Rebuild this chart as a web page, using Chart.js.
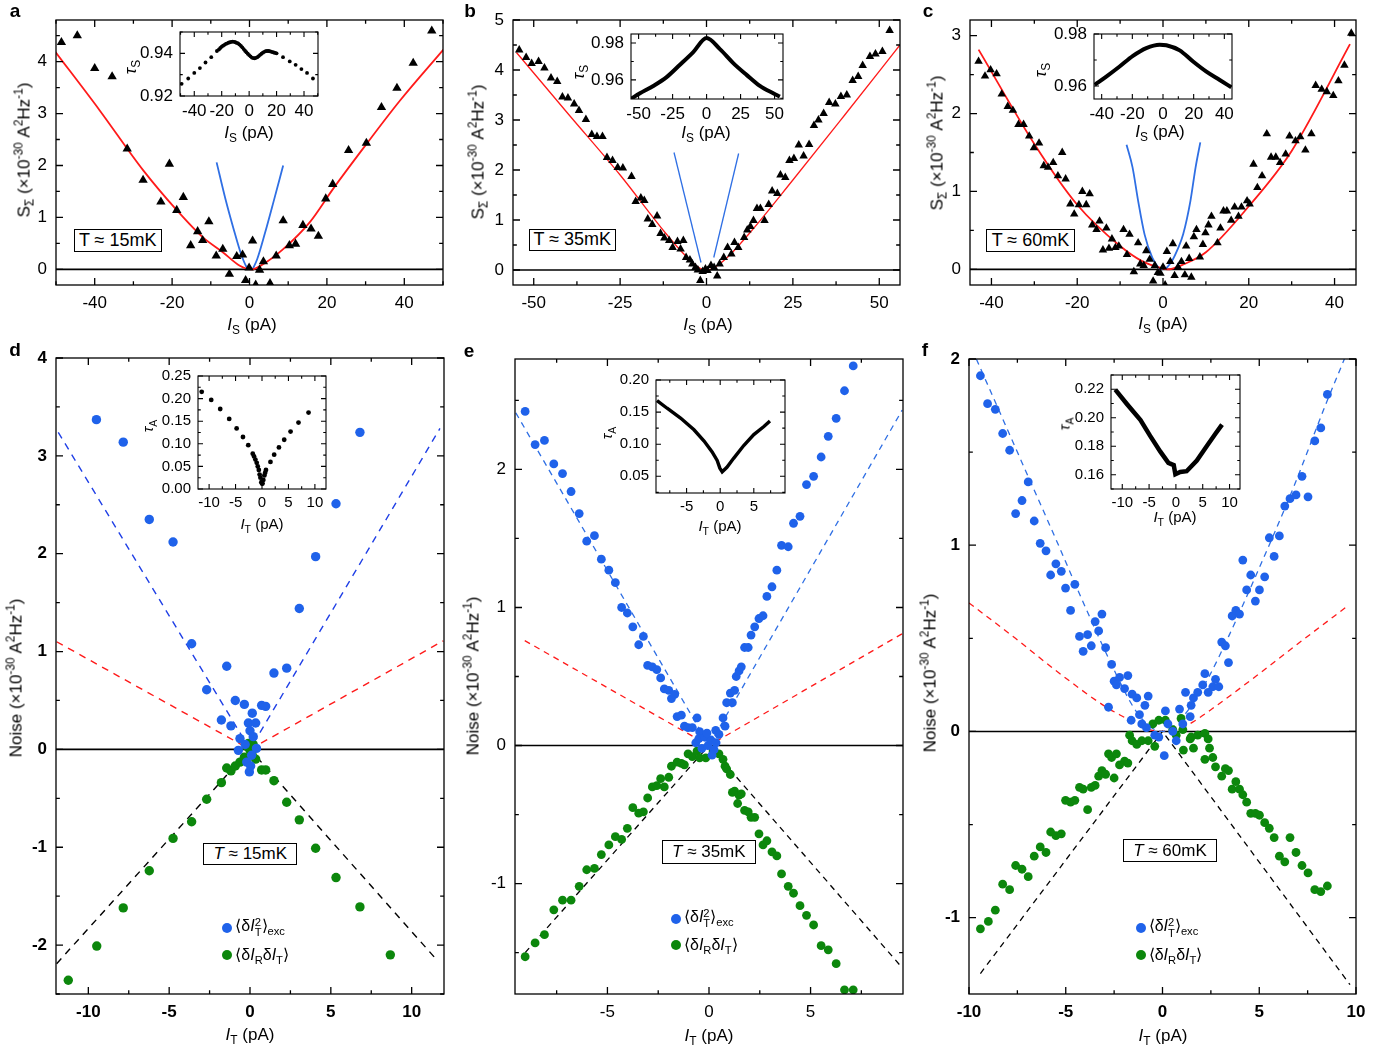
<!DOCTYPE html>
<html>
<head>
<meta charset="utf-8">
<title>Noise vs current</title>
<script src="https://cdn.jsdelivr.net/npm/chart.js@4.4.0/dist/chart.umd.min.js"></script>
<style>
  body { margin: 0; background: #fff; }
  #fig { position: relative; width: 1395px; height: 1051px; overflow: hidden;
         font-family: "Liberation Sans", Arial, sans-serif; color: #000; }
  #fig canvas { position: absolute; }
  .txt { position: absolute; white-space: nowrap; line-height: 1; }
  .txt sub, .txt sup { font-size: 70%; line-height: 0; }
  .box { position: absolute; border: 1.3px solid #000; background: #fff; box-sizing: border-box;
         display: flex; align-items: center; justify-content: center; white-space: nowrap; }
  .stk { display: inline-flex; flex-direction: column; font-size: 70%; line-height: 0.95; vertical-align: 0.4em; }
  .dot { position: absolute; border-radius: 50%; }
</style>
</head>
<body>
<div id="fig"></div>
<script>
/* ---------------- data ---------------- */
// panel a (T ~ 15 mK): S_sigma vs I_S, triangles + fits
var aTri = [[-48.6,4.37],[-44.5,4.50],[-40,3.87],[-35.5,3.71],[-31.6,2.32],[-27.5,1.72],[-22.9,1.30],[-20.7,2.03],
  [-18.8,1.14],[-17.1,1.39],[-15.2,0.46],[-13.4,0.73],[-12.1,0.56],[-10.5,0.92],[-8.6,0.26],[-6.9,0.39],[-5.2,-0.09],
  [-3.3,0.25],[-1.8,0.28],[-1.0,-0.21],[-0.1,0.03],[0.8,0.55],[1.6,-0.30],[2.6,-0.01],[3.6,0.15],[5.3,-0.27],[6.9,0.26],
  [8.7,0.94],[10.3,0.46],[11.9,0.49],[13.8,0.85],[15.9,0.78],[17.8,0.64],[19.7,1.36],[21.5,1.64],[25.6,2.29],[30.2,2.43],
  [34.1,3.12],[38.1,3.49],[42.3,3.97],[47.1,4.59]];
var aRed = [[-50.3,4.20],[-38.7,3.06],[-27.5,1.91],[-18.8,1.14],[-12.1,0.62],[-6.9,0.33],[-2.5,0.07],[0.5,0],
  [3.5,0.10],[8.7,0.39],[15.6,0.91],[21.6,1.55],[30.3,2.42],[38.9,3.25],[50.1,4.23]];
var aBlueL = [[-8.5,2.06],[-6.2,1.35],[-4,0.75],[-2.2,0.3],[-0.8,0.05],[-0.2,0]];
var aBlueR = [[0.8,0],[2,0.2],[4,0.7],[6.2,1.3],[8.7,2.0]];
var aXTicks = [-40,-20,0,20,40], aYTicks = [0,1,2,3,4];
var iaTau = [[-49.2,0.9257],[-44.4,0.9282],[-40,0.9308],[-35.9,0.9331],[-31.8,0.9357],[-27.6,0.9382],[-23.5,0.9411],
  [-22,0.9418],[-21,0.9425],[-20,0.9431],[-19,0.9436],[-18,0.9440],[-17,0.9444],[-16,0.9447],[-15,0.9450],[-14,0.9452],
  [-13,0.9454],[-12,0.9455],[-11,0.9454],[-10,0.9452],[-9,0.9449],[-8,0.9446],[-7,0.9441],[-6,0.9435],[-5,0.9428],
  [-4,0.9420],[-3,0.9412],[-2,0.9405],[-1,0.9398],[0,0.9392],[1,0.9386],[2,0.9380],[3,0.9378],[4,0.9377],[5,0.9379],
  [6,0.9382],[7,0.9387],[8,0.9393],[9,0.9398],[10,0.9403],[11,0.9407],[12,0.9410],[13,0.9411],[14,0.9411],[15,0.9410],
  [16,0.9408],[17,0.9406],[18,0.9404],[19,0.9402],[20,0.9400],[24.7,0.9382],[29.6,0.9362],[33.9,0.9346],[38.1,0.9326],
  [42.2,0.9308],[46.5,0.9282]];
var iaXTicks = [-40,-20,0,20,40], iaYTicks = [0.92,0.94];

// panel b (T ~ 35 mK)
var bTri = [[-54.2,4.40],[-52.2,4.25],[-50.6,4.13],[-48.6,4.17],[-46.9,4.04],[-45.0,3.84],[-43.2,3.77],[-41.7,3.46],
  [-40.1,3.44],[-38.3,3.32],[-36.9,3.19],[-34.9,3.01],[-33.2,2.71],[-31.7,2.67],[-30.1,2.67],[-28.8,2.25],[-27.2,2.19],
  [-25.7,2.05],[-24.2,2.04],[-21.7,1.87],[-20.5,1.37],[-19.0,1.44],[-18.0,1.39],[-17.0,1.02],[-15.7,0.91],[-14.3,1.08],
  [-13.3,0.73],[-12.2,0.64],[-10.8,0.59],[-9.8,0.45],[-8.4,0.57],[-7.5,0.42],[-6.7,0.59],[-5.9,0.25],[-4.8,0.20],
  [-4.1,0.12],[-3.2,0.05],[-2.5,0.0],[-1.8,-0.21],[-1.1,-0.03],[-0.3,0.02],[0.3,-0.01],[1.3,0.09],[2.2,0.05],[3.1,-0.12],
  [3.8,0.12],[5.0,0.25],[6.1,0.45],[7.2,0.32],[8.1,0.55],[9.2,0.45],[10.9,0.65],[11.8,0.80],[12.7,0.87],[13.6,0.99],
  [14.6,1.23],[15.6,1.23],[16.8,0.99],[18.0,1.31],[19.0,1.58],[20.5,1.53],[21.4,1.90],[22.8,1.85],[24.0,2.19],[25.3,2.23],
  [26.7,2.50],[28.1,2.28],[29.7,2.51],[31.1,2.89],[32.4,3.0],[33.9,3.13],[35.5,3.35],[37.3,3.32],[38.9,3.47],[40.6,3.50],
  [42.3,3.79],[43.9,3.87],[45.2,4.09],[47.3,4.27],[48.9,4.32],[50.9,4.37],[53.0,4.79]];
var bRed = [[-55,4.35],[-40,3.12],[-25,1.9],[-12,0.75],[-6,0.28],[-2,0.04],[0,0],[2,0.04],[6,0.25],[12,0.7],
  [25,1.8],[40,3.1],[56,4.5]];
var bBlueL = [[-9.4,2.35],[-1.6,0.15]];
var bBlueR = [[2.1,0.25],[9.3,2.33]];
var bXTicks = [-50,-25,0,25,50], bYTicks = [0,1,2,3,4,5];
var ibTau = [[-55.9,0.9496],[-49,0.9527],[-39.2,0.9567],[-29.4,0.9615],[-19.6,0.9682],[-9.8,0.9751],[0,0.9827],
  [9.8,0.9767],[19.6,0.9691],[29.4,0.9627],[39.2,0.9567],[49,0.9527],[53.9,0.9509]];
var ibXTicks = [-50,-25,0,25,50], ibYTicks = [0.96,0.98];

// panel c (T ~ 60 mK)
var cTri = [[-43.0,2.67],[-41.5,2.48],[-40.2,2.56],[-38.8,2.51],[-37.6,2.25],[-36.2,2.09],[-35.0,2.04],[-33.7,1.86],
  [-32.5,1.86],[-31.2,1.71],[-30.1,1.56],[-28.9,1.62],[-27.8,1.33],[-26.8,1.31],[-25.6,1.37],[-24.5,1.20],[-23.5,1.50],
  [-22.7,1.16],[-21.6,0.84],[-20.7,0.71],[-19.6,0.83],[-18.8,1.0],[-17.9,0.83],[-17.1,0.97],[-16.5,0.57],[-15.5,0.51],
  [-14.8,0.62],[-14.0,0.25],[-13.2,0.53],[-12.6,0.27],[-11.9,0.39],[-11.1,0.28],[-10.3,0.30],[-9.2,0.51],[-8.4,0.19],
  [-7.8,0.45],[-6.8,-0.03],[-5.8,0.34],[-5.3,0.07],[-4.5,0.05],[-3.9,0.24],[-3.1,0.13],[-2.3,-0.15],[-1.9,0.05],
  [-1.2,-0.04],[-0.6,-0.05],[0,0.03],[0.5,-0.20],[0.9,0.23],[1.7,0.10],[2.3,0.33],[2.7,-0.08],[3.5,0.03],[4.3,0.10],
  [5.1,-0.07],[5.4,0.30],[6.1,0.14],[6.6,-0.10],[7.2,0.42],[7.8,0.51],[8.6,0.16],[9.3,0.32],[9.9,0.47],[10.6,0.57],
  [11.3,0.68],[12.7,0.34],[13.4,0.53],[14.1,0.75],[14.9,0.75],[15.9,0.63],[16.7,0.80],[17.6,0.68],[18.3,0.80],[19.6,0.88],
  [20.2,0.84],[21.1,1.35],[22.0,1.05],[23.1,1.20],[24.2,1.74],[25.2,1.44],[26.3,1.44],[27.3,1.37],[28.6,1.48],[29.5,1.71],
  [30.9,1.65],[32.0,1.70],[33.2,1.53],[34.6,1.74],[35.6,2.36],[37.0,2.31],[38.2,2.28],[39.7,2.23],[40.9,2.42],[42.3,2.62],
  [43.9,3.03]];
var cRed = [[-43,2.82],[-30,1.61],[-20,0.83],[-10,0.30],[-5,0.11],[0,0.01],[1,0],[5,0.07],[10,0.22],[20,0.81],
  [30,1.52],[43.6,2.89]];
var cBlueL = [[-8.5,1.6],[-7.1,1.31],[-5.8,0.88],[-4.3,0.45],[-2.5,0.15],[-1,0.02],[0,0]];
var cBlueR = [[0.5,0],[2,0.1],[3.5,0.27],[4.7,0.45],[6.4,0.88],[7.6,1.31],[8.7,1.63]];
var cXTicks = [-40,-20,0,20,40], cYTicks = [0,1,2,3];
var icTau = [[-44.6,0.9604],[-37,0.9636],[-28.3,0.9675],[-19.6,0.9716],[-10.9,0.9746],[-2.2,0.9759],[2.2,0.9757],
  [10.9,0.9737],[19.6,0.9694],[28.3,0.9655],[37,0.9623],[44.6,0.9595]];
var icXTicks = [-40,-20,0,20,40], icYTicks = [0.96,0.98];

// panel d (T ~ 15 mK): noise vs I_T
var dExc = [[-9.5,3.37],[-7.84,3.14],[-6.23,2.35],[-4.76,2.12],[-3.61,1.08],[-2.68,0.61],[-1.77,0.30],[-1.44,0.85],
  [-1.18,0.24],[-0.91,0.50],[-0.35,0.46],[0.14,0.37],[-0.1,0.27],[0.35,0.27],[0,0.19],[0.72,0.45],[0.97,0.44],[1.48,0.78],
  [2.27,0.83],[3.05,1.44],[4.06,1.97],[5.32,2.51],[6.8,3.24],[-0.62,0.11],[-0.72,-0.01],[-0.2,-0.13],[0.04,-0.17],
  [-0.04,-0.23],[0.2,0.13],[0.4,0.01],[-0.3,0.05],[0.1,-0.06]];
var dCross = [[-11.24,-2.36],[-9.48,-2.01],[-7.84,-1.62],[-6.23,-1.24],[-4.76,-0.91],[-3.61,-0.74],[-2.68,-0.51],
  [-1.77,-0.34],[-1.44,-0.19],[-1.18,-0.22],[-0.91,-0.17],[-0.62,-0.13],[-0.35,-0.08],[-0.1,0.06],[0,-0.01],[0.14,-0.06],
  [0.35,-0.10],[0.72,-0.21],[0.97,-0.21],[1.48,-0.32],[2.27,-0.54],[3.05,-0.72],[4.06,-1.01],[5.32,-1.31],[6.8,-1.61],
  [8.68,-2.10],[-0.2,0.03],[0.2,0.05]];
var dBlueFit = [[-11.86,3.24],[0,0],[11.75,3.28]];
var dRedFit = [[-11.96,1.10],[0,0],[11.96,1.11]];
var dBlackFit = [[-11.96,-2.19],[0,0],[11.6,-2.16]];
var dXTicks = [-10,-5,0,5,10], dYTicks = [-2,-1,0,1,2,3,4];
var idTau = [[-11.4,0.215],[-9.6,0.197],[-7.9,0.177],[-6.2,0.155],[-4.8,0.134],[-3.6,0.115],[-2.6,0.097],[-1.75,0.078],
  [-1.5,0.072],[-1.25,0.065],[-1.0,0.058],[-0.8,0.050],[-0.6,0.042],[-0.45,0.032],[-0.3,0.025],[-0.12,0.015],[0,0.012],
  [0.1,0.012],[0.25,0.02],[0.45,0.03],[0.6,0.036],[0.75,0.042],[1.6,0.06],[2.3,0.076],[3.2,0.092],[4.2,0.109],
  [5.4,0.127],[6.9,0.147],[8.8,0.169]];
var idXTicks = [-10,-5,0,5,10], idYTicks = [0,0.05,0.10,0.15,0.20,0.25];

// panel e (T ~ 35 mK)
var eExc = [[-9.05,2.42],[-8.56,2.18],[-8.10,2.21],[-7.64,2.04],[-7.21,1.97],[-6.79,1.84],[-6.39,1.68],[-6.02,1.48],
  [-5.64,1.52],[-5.30,1.35],[-4.93,1.27],[-4.61,1.18],[-4.30,1.00],[-4.02,0.96],[-3.75,0.86],[-3.23,0.79],[-3.46,0.73],
  [-3.02,0.58],[-2.79,0.57],[-2.57,0.55],[-2.38,0.49],[-2.2,0.41],[-1.98,0.40],[-1.85,0.34],[-1.69,0.37],[-1.57,0.21],
  [-1.36,0.22],[-1.21,0.14],[-1.03,0.13],[-0.82,0.13],[-0.59,0.20],[-0.46,0.10],[-0.65,0.02],[-0.5,0.05],[-0.35,-0.02],
  [-0.2,0.06],[-0.05,0.0],[0.1,0.04],[0.25,-0.03],[0.35,0.02],[0.15,-0.07],[-0.1,0.09],[0.33,0.11],[0.49,0.08],[0.69,0.20],
  [0.79,0.14],[0.87,0.31],[1.05,0.38],[1.15,0.31],[1.26,0.40],[1.34,0.50],[1.48,0.54],[1.59,0.57],[1.75,0.71],[1.93,0.71],
  [2.07,0.80],[2.25,0.86],[2.46,0.92],[2.66,0.94],[2.85,1.08],[3.10,1.15],[3.34,1.27],[3.57,1.45],[3.90,1.44],[4.16,1.61],
  [4.48,1.66],[4.80,1.89],[5.15,1.95],[5.52,2.09],[5.87,2.24],[6.26,2.37],[6.67,2.57],[7.10,2.75]];
var eCross = [[-9.05,-1.53],[-8.56,-1.43],[-8.10,-1.37],[-7.64,-1.19],[-7.21,-1.12],[-6.79,-1.12],[-6.39,-1.02],
  [-6.02,-0.90],[-5.64,-0.89],[-5.30,-0.79],[-4.93,-0.72],[-4.61,-0.66],[-4.30,-0.68],[-4.02,-0.60],[-3.75,-0.45],
  [-3.46,-0.49],[-3.23,-0.48],[-3.02,-0.38],[-2.79,-0.30],[-2.57,-0.29],[-2.38,-0.24],[-2.2,-0.30],[-1.98,-0.23],
  [-1.85,-0.15],[-1.57,-0.12],[-1.36,-0.13],[-1.21,-0.14],[-1.03,-0.06],[-0.82,-0.08],[-0.59,-0.04],[-0.46,-0.09],
  [-0.16,-0.09],[0.2,-0.04],[0.49,-0.06],[0.69,-0.10],[0.79,-0.15],[0.87,-0.17],[1.05,-0.21],[1.15,-0.34],[1.26,-0.33],
  [1.41,-0.42],[1.48,-0.36],[1.59,-0.35],[1.75,-0.47],[1.93,-0.48],[2.07,-0.52],[2.25,-0.52],[2.46,-0.64],[2.66,-0.72],
  [2.85,-0.69],[3.10,-0.77],[3.34,-0.80],[3.57,-0.93],[3.90,-1.02],[4.16,-1.07],[4.48,-1.16],[4.80,-1.23],[5.15,-1.30],
  [5.52,-1.45],[5.87,-1.48],[6.26,-1.58],[6.67,-1.77],[7.10,-1.77]];
var eBlueFit = [[-9.51,2.41],[0,0],[9.51,2.43]];
var eRedFit = [[-9.07,0.76],[0,0],[9.51,0.81]];
var eBlackFit = [[-9.05,-1.50],[0,0],[9.51,-1.61]];
var eXTicks = [-5,0,5], eYTicks = [-1,0,1,2];
var ieTau = [[-9.4,0.168],[-7.9,0.156],[-5.9,0.1408],[-3.9,0.1225],[-2.4,0.1049],[-1.2,0.088],[-0.45,0.0746],
  [-0.05,0.0627],[0.3,0.057],[1.0,0.064],[2.0,0.078],[3.5,0.098],[5.0,0.115],[6.5,0.1275],[7.4,0.136]];
var ieXTicks = [-5,0,5], ieYTicks = [0.05,0.10,0.15,0.20];

// panel f (T ~ 60 mK)
var fExc = [[-9.41,1.91],[-9.04,1.76],[-8.64,1.73],[-8.26,1.60],[-7.90,1.51],[-6.94,1.34],[-7.26,1.24],[-7.59,1.17],
  [-6.63,1.13],[-6.32,1.01],[-6.02,0.97],[-5.78,0.84],[-5.51,0.90],[-5.23,0.86],[-5.01,0.77],[-4.53,0.79],[-4.75,0.65],
  [-4.29,0.51],[-4.10,0.43],[-3.87,0.52],[-3.68,0.46],[-3.48,0.59],[-3.30,0.54],[-3.13,0.63],[-2.94,0.45],[-2.63,0.36],
  [-2.50,0.27],[-2.22,0.29],[-1.79,0.30],[-2.38,0.25],[-1.96,0.23],[-2.79,0.13],[-1.57,0.20],[-1.33,0.18],[-0.74,0.19],
  [-0.91,0.14],[-1.19,0.09],[-1.62,0.06],[-1.07,0.04],[-0.83,0.02],[-0.40,-0.02],[-0.19,-0.03],[0.15,0.11],[0.28,0.04],
  [0.53,0.0],[0.09,-0.13],[0.71,-0.05],[0.88,0.12],[1.05,0.04],[1.19,0.21],[1.43,0.08],[1.60,0.18],[1.48,0.14],[1.82,0.21],
  [2.08,0.25],[2.19,0.31],[2.36,0.21],[2.60,0.24],[2.74,0.28],[2.91,0.24],[3.06,0.48],[3.25,0.46],[3.41,0.37],[3.60,0.62],
  [3.79,0.65],[3.98,0.63],[4.15,0.92],[4.35,0.76],[4.56,0.84],[4.80,0.70],[5.01,0.76],[5.28,0.83],[5.52,1.04],[5.77,0.94],
  [6.04,1.05],[6.32,1.21],[6.59,1.25],[6.90,1.27],[7.21,1.37],[7.52,1.26],[7.87,1.56],[8.18,1.63],[8.52,1.81]];
var fCross = [[-9.41,-1.06],[-9.0,-1.02],[-8.64,-0.96],[-8.26,-0.82],[-7.90,-0.85],[-7.59,-0.72],[-7.26,-0.74],
  [-6.94,-0.78],[-6.63,-0.67],[-6.32,-0.62],[-6.02,-0.65],[-5.78,-0.54],[-5.51,-0.56],[-5.23,-0.55],[-5.01,-0.37],
  [-4.75,-0.38],[-4.53,-0.37],[-4.29,-0.30],[-4.10,-0.31],[-3.87,-0.42],[-3.68,-0.30],[-3.48,-0.29],[-3.30,-0.24],
  [-3.13,-0.21],[-2.94,-0.23],[-2.79,-0.12],[-2.63,-0.14],[-2.50,-0.25],[-2.38,-0.12],[-2.22,-0.18],[-1.96,-0.16],
  [-1.79,-0.17],[-1.70,-0.02],[-1.57,-0.05],[-1.33,-0.07],[-1.07,-0.05],[-0.74,-0.05],[-0.40,-0.08],[-0.50,0.04],
  [-0.19,0.06],[0.15,0.06],[0.53,0.01],[0.71,-0.02],[1.05,0.01],[0.96,0.07],[1.43,-0.04],[1.08,-0.10],[1.48,-0.03],
  [1.60,-0.09],[1.82,-0.02],[2.19,-0.01],[2.36,-0.04],[2.43,-0.09],[2.19,-0.15],[2.60,-0.14],[2.74,-0.19],[3.06,-0.24],
  [3.25,-0.20],[3.41,-0.21],[3.60,-0.31],[3.79,-0.27],[3.98,-0.31],[4.15,-0.34],[4.35,-0.38],[4.56,-0.44],[4.80,-0.44],
  [5.01,-0.45],[5.28,-0.49],[5.52,-0.52],[5.77,-0.57],[6.04,-0.67],[6.32,-0.70],[6.59,-0.57],[6.90,-0.65],[7.21,-0.72],
  [7.52,-0.76],[7.87,-0.85],[8.18,-0.86],[8.52,-0.83]];
var fBlueFit = [[-9.62,2.0],[-7.5,1.5],[-5.5,1.03],[-4,0.67],[-2.5,0.33],[-1.5,0.13],[-0.7,0.03],[0,0],[0.7,0.04],
  [1.57,0.15],[2.43,0.30],[3.46,0.52],[4.84,0.84],[6.73,1.30],[8.45,1.76],[9.4,2.0]];
var fRedFit = [[-10,0.69],[-7.6,0.50],[-5.3,0.31],[-2.9,0.13],[-1.87,0.07],[-1,0.02],[0,0],[1,0.02],[1.56,0.05],
  [2.6,0.124],[5,0.31],[7.24,0.49],[9.65,0.68]];
var fBlackFit = [[-9.41,-1.30],[0,0],[9.69,-1.36]];
var fXTicks = [-10,-5,0,5,10], fYTicks = [-1,0,1,2];
var ifTau = [[-11.3,0.2197],[-9.1,0.2095],[-6.6,0.1984],[-4.8,0.1873],[-2.9,0.1762],[-1.4,0.1683],[-0.4,0.1667],
  [-0.1,0.1603],[0.8,0.1619],[2.0,0.1625],[3.9,0.170],[5.8,0.1803],[7.4,0.1889],[8.6,0.1952]];
var ifXTicks = [-10,-5,0,5,10], ifYTicks = [0.16,0.18,0.20,0.22];

/* ---------------- styling ---------------- */
var FONT = '"Liberation Sans", Arial, sans-serif';
var RED = '#ff1a1a', BLUE_LINE = '#2f6fe4', BLUE = '#1f62ea', GREEN = '#0c870c';
var fig = document.getElementById('fig');

function pts(arr) { return arr.map(function (p) { return { x: p[0], y: p[1] }; }); }

function marks(arr, color, style, r) {
  return { data: pts(arr), showLine: false, pointStyle: style, pointRadius: r, pointHoverRadius: r,
           backgroundColor: color, borderColor: color, borderWidth: 0 };
}
function curve(arr, color, w, dash, smooth) {
  return { data: pts(arr), showLine: true, pointRadius: 0, borderColor: color, borderWidth: w,
           borderDash: dash || [], tension: smooth ? 0.4 : 0,
           cubicInterpolationMode: smooth ? 'monotone' : 'default' };
}
function zeroLine(xr) { return curve([[xr[0], 0], [xr[1], 0]], '#000', 1.6); }

function minorOf(ticks, lo, hi) {
  var step = ticks[1] - ticks[0], out = [];
  for (var v = ticks[0] - step / 2; v >= lo - 1e-9; v -= step) out.push(v);
  ticks.forEach(function (t) { var m = t + step / 2; if (m <= hi + 1e-9) out.push(m); });
  return out;
}

// frame with inward ticks on all four sides, optional white plot area (insets)
var framePlugin = {
  id: 'frame',
  beforeDatasetsDraw: function (chart, args, o) {
    if (!o.fill) return;
    var a = chart.chartArea, ctx = chart.ctx;
    ctx.save();
    ctx.fillStyle = '#fff';
    ctx.fillRect(a.left, a.top, a.right - a.left, a.bottom - a.top);
    ctx.restore();
  },
  afterDraw: function (chart, args, o) {
    var a = chart.chartArea, ctx = chart.ctx, sx = chart.scales.x, sy = chart.scales.y;
    ctx.save();
    ctx.strokeStyle = '#000';
    ctx.lineWidth = o.lw;
    ctx.strokeRect(a.left, a.top, a.right - a.left, a.bottom - a.top);
    ctx.beginPath();
    function tx(v, len) {
      var p = sx.getPixelForValue(v);
      ctx.moveTo(p, a.bottom); ctx.lineTo(p, a.bottom - len);
      ctx.moveTo(p, a.top); ctx.lineTo(p, a.top + len);
    }
    function ty(v, len) {
      var p = sy.getPixelForValue(v);
      ctx.moveTo(a.left, p); ctx.lineTo(a.left + len, p);
      ctx.moveTo(a.right, p); ctx.lineTo(a.right - len, p);
    }
    sx.ticks.forEach(function (t) { tx(t.value, o.major); });
    sy.ticks.forEach(function (t) { ty(t.value, o.major); });
    o.xMinor.forEach(function (v) { tx(v, o.minor); });
    o.yMinor.forEach(function (v) { ty(v, o.minor); });
    ctx.stroke();
    ctx.restore();
  }
};
Chart.register(framePlugin);

// box = plot area [left, top, right, bottom] in page pixels; m = margins [l, t, r, b]
function panel(o) {
  var m = o.m, box = o.box;
  var W = Math.round(box[2] - box[0] + m[0] + m[2]);
  var H = Math.round(box[3] - box[1] + m[1] + m[3]);
  var cv = document.createElement('canvas');
  cv.width = W; cv.height = H;
  cv.style.left = (box[0] - m[0]) + 'px';
  cv.style.top = (box[1] - m[1]) + 'px';
  fig.appendChild(cv);
  var font = { family: FONT, size: o.fs, weight: o.bold ? 'bold' : 'normal' };
  return new Chart(cv.getContext('2d'), {
    type: 'scatter',
    data: { datasets: o.datasets },
    options: {
      responsive: false,
      animation: false,
      events: [],
      layout: { padding: { left: 0, top: m[1], right: m[2], bottom: 0 } },
      plugins: {
        legend: { display: false },
        tooltip: { enabled: false },
        frame: { lw: o.lw || 1.3, major: o.tl || 7, minor: (o.tl || 7) * 0.55, fill: !!o.fill,
                 xMinor: minorOf(o.xt, o.xr[0], o.xr[1]), yMinor: minorOf(o.yt, o.yr[0], o.yr[1]) }
      },
      scales: {
        x: {
          type: 'linear', position: 'bottom', min: o.xr[0], max: o.xr[1],
          grid: { display: false, drawTicks: false }, border: { display: false },
          ticks: { color: '#000', font: font, padding: o.xpad, maxRotation: 0, autoSkip: false,
                   callback: function (v) { return v.toFixed(o.xd || 0); } },
          afterBuildTicks: function (s) { s.ticks = o.xt.map(function (v) { return { value: v }; }); },
          afterFit: function (s) { s.height = m[3]; s.paddingLeft = 0; s.paddingRight = 0; }
        },
        y: {
          type: 'linear', position: 'left', min: o.yr[0], max: o.yr[1],
          grid: { display: false, drawTicks: false }, border: { display: false },
          ticks: { color: '#000', font: font, padding: o.ypad, autoSkip: false,
                   callback: function (v) { return v.toFixed(o.yd || 0); } },
          afterBuildTicks: function (s) { s.ticks = o.yt.map(function (v) { return { value: v }; }); },
          afterFit: function (s) { s.width = m[0]; s.paddingTop = 0; s.paddingBottom = 0; }
        }
      }
    }
  });
}

/* ---------------- top row: S_sigma vs I_S ---------------- */
var MAIN_M = [50, 14, 22, 36];
panel({ box: [56, 19.5, 443, 284.5], m: MAIN_M, xr: [-50, 50], yr: [-0.30, 4.80], xt: aXTicks, yt: aYTicks,
  fs: 17, xpad: 8, ypad: 9,
  datasets: [marks(aTri, '#000', 'triangle', 5.4), curve(aRed, RED, 1.8, null, true),
             curve(aBlueL, BLUE_LINE, 1.8, null, true), curve(aBlueR, BLUE_LINE, 1.8, null, true), zeroLine([-50, 50])] });
panel({ box: [512.6, 19.5, 899.8, 284.5], m: MAIN_M, xr: [-56, 56], yr: [-0.30, 5.0], xt: bXTicks, yt: bYTicks,
  fs: 17, xpad: 8, ypad: 9,
  datasets: [marks(bTri, '#000', 'triangle', 4.9), curve(bRed, RED, 1.3, null, true),
             curve(bBlueL, BLUE_LINE, 1.3), curve(bBlueR, BLUE_LINE, 1.3), zeroLine([-56, 56])] });
panel({ box: [970.3, 19.5, 1356.3, 284.5], m: MAIN_M, xr: [-45, 45], yr: [-0.20, 3.20], xt: cXTicks, yt: cYTicks,
  fs: 17, xpad: 8, ypad: 9,
  datasets: [marks(cTri, '#000', 'triangle', 4.9), curve(cRed, RED, 1.8, null, true),
             curve(cBlueL, BLUE_LINE, 1.8, null, true), curve(cBlueR, BLUE_LINE, 1.8, null, true), zeroLine([-45, 45])] });

/* ---------------- bottom row: noise vs I_T ---------------- */
panel({ box: [56, 358, 444, 994], m: MAIN_M, xr: [-12, 12], yr: [-2.5, 4], xt: dXTicks, yt: dYTicks,
  fs: 17, bold: true, xpad: 8, ypad: 9,
  datasets: [marks(dExc, BLUE, 'circle', 4.7), marks(dCross, GREEN, 'circle', 4.7),
             curve(dBlueFit, '#1f3fe6', 1.4, [7, 6]), curve(dRedFit, RED, 1.4, [7, 6]),
             curve(dBlackFit, '#000', 1.4, [7, 6]), zeroLine([-12, 12])] });
panel({ box: [515, 359, 903.3, 994], m: MAIN_M, xr: [-9.55, 9.55], yr: [-1.8, 2.8], xt: eXTicks, yt: eYTicks,
  fs: 17, xpad: 8, ypad: 9,
  datasets: [marks(eExc, BLUE, 'circle', 4.4), marks(eCross, GREEN, 'circle', 4.4),
             curve(eBlueFit, BLUE_LINE, 1.3, [6, 5]), curve(eRedFit, RED, 1.3, [6, 5]),
             curve(eBlackFit, '#000', 1.3, [6, 5]), zeroLine([-9.55, 9.55])] });
panel({ box: [969.3, 359, 1356.7, 994], m: MAIN_M, xr: [-10, 10], yr: [-1.41, 2.0], xt: fXTicks, yt: fYTicks,
  fs: 17, bold: true, xpad: 8, ypad: 9,
  datasets: [marks(fExc, BLUE, 'circle', 4.4), marks(fCross, GREEN, 'circle', 4.4),
             curve(fBlueFit, BLUE_LINE, 1.3, [6, 5], true), curve(fRedFit, RED, 1.3, [6, 5], true),
             curve(fBlackFit, '#000', 1.3, [6, 5]), zeroLine([-10, 10])] });

/* ---------------- insets ---------------- */
var IN_M = [46, 12, 16, 30];
panel({ box: [180, 32.3, 318.3, 96.7], m: IN_M, xr: [-50.4, 50.2], yr: [0.92, 0.95], xt: iaXTicks, yt: iaYTicks,
  fs: 17, yd: 2, xpad: 5, ypad: 7, tl: 5, lw: 1.1, fill: true,
  datasets: [marks(iaTau, '#000', 'circle', 1.9)] });
panel({ box: [630.7, 34.3, 782.7, 99], m: IN_M, xr: [-55.6, 56.2], yr: [0.9496, 0.9849], xt: ibXTicks, yt: ibYTicks,
  fs: 17, yd: 2, xpad: 5, ypad: 7, tl: 5, lw: 1.1, fill: true,
  datasets: [curve(ibTau, '#000', 4, null, true)] });
panel({ box: [1094, 34.3, 1231.7, 99.3], m: IN_M, xr: [-45, 45], yr: [0.955, 0.98], xt: icXTicks, yt: icYTicks,
  fs: 17, yd: 2, xpad: 5, ypad: 7, tl: 5, lw: 1.1, fill: true,
  datasets: [curve(icTau, '#000', 4, null, true)] });
var IN2_M = [42, 12, 16, 26];
panel({ box: [197.7, 376.3, 326, 489.7], m: IN2_M, xr: [-12.1, 12.1], yr: [0, 0.25], xt: idXTicks, yt: idYTicks,
  fs: 15, yd: 2, xpad: 5, ypad: 7, tl: 5, lw: 1.1, fill: true,
  datasets: [marks(idTau, '#000', 'circle', 2.4)] });
panel({ box: [655.7, 379.5, 784.3, 492.8], m: IN2_M, xr: [-9.55, 9.64], yr: [0.024, 0.20], xt: ieXTicks, yt: ieYTicks,
  fs: 15, yd: 2, xpad: 5, ypad: 7, tl: 5, lw: 1.1, fill: true,
  datasets: [curve(ieTau, '#000', 3.4)] });
panel({ box: [1110.7, 374.5, 1240, 488.3], m: IN2_M, xr: [-12.1, 11.95], yr: [0.15, 0.23], xt: ifXTicks, yt: ifYTicks,
  fs: 15, yd: 2, xpad: 5, ypad: 7, tl: 5, lw: 1.1, fill: true,
  datasets: [curve(ifTau, '#000', 4.5)] });

/* ---------------- text: titles, letters, boxes, legends ---------------- */
function text(html, cx, cy, size, rot, extra, leftAnchor) {
  var d = document.createElement('div');
  d.className = 'txt';
  d.innerHTML = html;
  d.style.fontSize = size + 'px';
  d.style.left = cx + 'px';
  d.style.top = cy + 'px';
  d.style.transform = (leftAnchor ? 'translate(0,-50%)' : 'translate(-50%,-50%)') + (rot ? ' rotate(-90deg)' : '');
  if (extra) d.style.cssText += extra;
  fig.appendChild(d);
}
function tbox(html, l, t, r, b, size) {
  var d = document.createElement('div');
  d.className = 'box';
  d.innerHTML = html;
  d.style.cssText += 'left:' + l + 'px;top:' + t + 'px;width:' + (r - l) + 'px;height:' + (b - t) + 'px;font-size:' + size + 'px;';
  fig.appendChild(d);
}
function legendDot(cx, cy, color) {
  var d = document.createElement('div');
  d.className = 'dot';
  d.style.cssText += 'left:' + (cx - 5) + 'px;top:' + (cy - 5) + 'px;width:10px;height:10px;background:' + color + ';';
  fig.appendChild(d);
}

var IS = '<i>I</i><sub>S</sub> (pA)', IT = '<i>I</i><sub>T</sub> (pA)';
var SSIG = 'S<sub>Σ</sub> (×10<sup>-30</sup> A<sup>2</sup>Hz<sup>-1</sup>)';
var NOISE = 'Noise (×10<sup>-30</sup> A<sup>2</sup>Hz<sup>-1</sup>)';
var LEG1 = '⟨δ<i>I</i><span class="stk"><span>2</span><span>T</span></span>⟩<sub>exc</sub>';
var LEG2 = '⟨δ<i>I</i><sub>R</sub>δ<i>I</i><sub>T</sub>⟩';

// panel letters
[['a', 15, 10], ['b', 470, 10], ['c', 928, 10], ['d', 15, 349], ['e', 469, 350], ['f', 925, 349]].forEach(function (p) {
  text(p[0], p[1], p[2], 19, false, 'font-weight:bold;');
});

// main axis titles
text(IS, 252, 324, 17); text(IS, 708, 324, 17); text(IS, 1163, 323, 17);
text(SSIG, 24, 150, 17, true); text(SSIG, 478, 152, 17, true); text(SSIG, 937, 143, 17, true);
text(IT, 250, 1034, 17); text(IT, 709, 1035, 17); text(IT, 1163, 1035, 17);
text(NOISE, 16, 678, 17, true); text(NOISE, 473, 676, 17, true); text(NOISE, 930, 673, 17, true);

// inset axis titles
text(IS, 249, 132, 17); text(IS, 706, 132, 17); text(IS, 1160, 131, 17);
text('<i>τ</i><sub>S</sub>', 130, 67, 17, true); text('<i>τ</i><sub>S</sub>', 578, 72, 17, true); text('<i>τ</i><sub>S</sub>', 1040, 70, 17, true);
text(IT, 262, 523, 15); text(IT, 720, 525, 15); text(IT, 1175, 516, 15);
text('<i>τ</i><sub>A</sub>', 147, 426, 15, true); text('<i>τ</i><sub>A</sub>', 606, 433, 15, true); text('<i>τ</i><sub>A</sub>', 1064, 424, 15, true);

// temperature boxes
tbox('T ≈ 15mK', 73.7, 228.7, 161.7, 251.7, 18);
tbox('T ≈ 35mK', 528.7, 228.7, 616, 250.7, 18);
tbox('T ≈ 60mK', 986, 229, 1075, 251.7, 18);
tbox('<i>T</i>&nbsp;≈ 15mK', 203.3, 842.5, 297.3, 865.2, 17);
tbox('<i>T</i>&nbsp;≈ 35mK', 661.7, 840, 756, 863.8, 17);
tbox('<i>T</i>&nbsp;≈ 60mK', 1122.7, 838.9, 1217.3, 862.5, 17);

// legends
[[227.3, 927.8, 955], [676, 918.7, 945.4], [1140.7, 928.2, 954.5]].forEach(function (p) {
  legendDot(p[0], p[1], BLUE);
  legendDot(p[0], p[2], GREEN);
  text(LEG1, p[0] + 8, p[1], 16, false, null, true);
  text(LEG2, p[0] + 8, p[2], 16, false, null, true);
});
</script>
</body>
</html>
